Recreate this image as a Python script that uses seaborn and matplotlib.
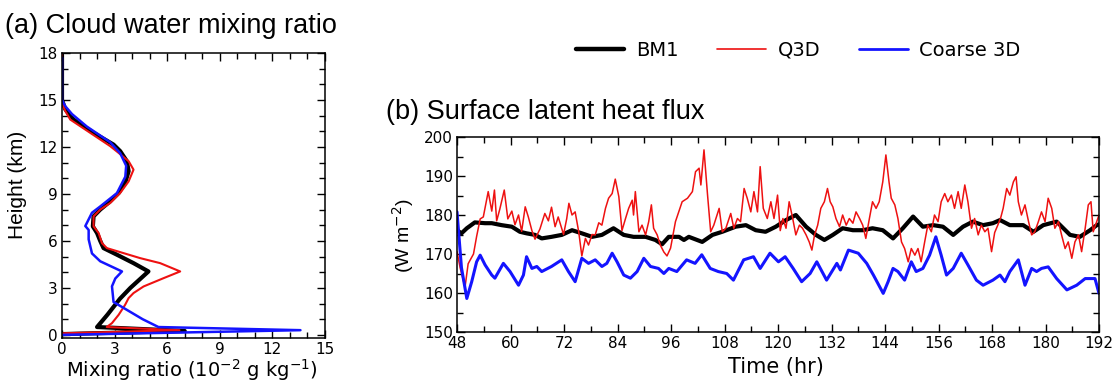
import matplotlib
matplotlib.use("Agg")
import matplotlib.pyplot as plt
from matplotlib.lines import Line2D
from matplotlib.ticker import MultipleLocator
import pandas as pd
import seaborn as sns

# ---------------- (a) cloud water mixing ratio profiles ----------------
# mixing ratio in 1e-2 g/kg, height in km (listed bottom to top)
bm1_qc = [0.0, 7.0, 2.0, 2.6, 3.3, 3.9, 4.93, 4.08, 3.13, 2.37, 2.18, 2.0, 1.76,
          1.8, 2.18, 2.75, 3.23, 3.6, 3.8, 3.7, 3.32, 2.94, 1.8, 0.66, 0.19, 0.0, 0.0]
bm1_z = [0.05, 0.25, 0.5, 1.3, 2.3, 3.0, 4.05, 4.58, 5.12, 5.54, 6.0, 6.5, 6.93,
         7.57, 8.0, 8.53, 9.06, 9.7, 10.45, 11.09, 11.73, 12.15, 12.9, 13.75, 14.4, 15.0, 17.9]

q3d_qc = [0.0, 6.7, 2.55, 2.85, 3.23, 3.6, 3.8, 4.08, 4.65, 5.79, 6.74, 5.6, 4.46,
          3.51, 2.56, 2.28, 2.09, 1.8, 1.8, 2.18, 2.75, 3.32, 3.8, 4.08, 3.8, 3.23,
          2.75, 1.61, 0.47, 0.19, 0.0, 0.0]
q3d_z = [0.1, 0.3, 0.5, 0.75, 1.28, 1.92, 2.35, 2.67, 3.09, 3.62, 4.05, 4.58, 4.9,
         5.22, 5.54, 5.86, 6.5, 6.93, 7.57, 8.0, 8.42, 9.06, 9.8, 10.55, 11.09, 11.62,
         12.05, 12.9, 13.75, 14.29, 14.8, 17.9]

coarse_qc = [0.0, 13.6, 5.5, 4.6, 2.94, 2.85, 3.04, 3.42, 2.18, 1.71, 1.52, 1.52,
             1.33, 1.71, 2.18, 3.13, 3.61, 3.66, 3.32, 2.75, 1.42, 0.57, 0.19, 0.0, 0.0]
coarse_z = [0.0, 0.3, 0.5, 1.0, 2.1, 3.1, 3.6, 4.05, 4.7, 5.2, 6.1, 6.7,
            6.95, 7.8, 8.2, 9.05, 10.1, 10.8, 11.6, 12.3, 13.3, 14.1, 14.6, 15.0, 17.7]

# ---------------- (b) surface latent heat flux (W m-2) ----------------
bm1_hours = [48.0, 49.0, 50.2, 52.0, 54.3, 55.8, 58.0, 60.3, 62.1, 63.6,
             65.5, 67.0, 69.2, 71.5, 73.8, 76.0, 78.3, 80.5, 83.1, 85.4,
             87.6, 90.3, 92.5, 94.0, 95.5, 97.8, 98.9, 100.0, 103.0, 105.3,
             107.5, 110.5, 112.8, 115.0, 117.2, 119.5, 121.8, 124.0, 126.3, 128.5,
             130.4, 132.3, 134.5, 136.8, 139.0, 141.2, 143.5, 145.8, 148.0, 150.3,
             152.5, 154.8, 157.0, 159.3, 161.5, 163.7, 166.0, 168.2, 169.8, 172.0,
             175.0, 177.3, 179.5, 182.5, 185.5, 187.7, 190.0, 191.5, 192.0]
bm1_flux = [176.1, 175.3, 176.6, 178.1, 177.9, 177.9, 177.4, 177.0, 175.7, 175.3,
            174.9, 174.0, 174.4, 174.9, 176.1, 175.3, 174.4, 174.9, 176.6, 174.9,
            174.4, 174.4, 173.6, 172.5, 174.4, 174.4, 173.6, 174.4, 173.1, 174.9,
            175.7, 177.0, 177.4, 176.1, 175.7, 177.0, 178.7, 180.0, 177.0, 174.9,
            173.6, 174.9, 176.6, 176.1, 176.1, 176.6, 176.1, 174.0, 176.6, 179.6,
            177.0, 177.4, 177.0, 174.9, 177.0, 178.3, 177.4, 177.9, 178.7, 177.4,
            177.4, 175.7, 177.4, 178.3, 174.9, 174.4, 176.1, 177.4, 177.6]

q3d_hours = [48.0, 48.7, 49.8, 50.5, 51.7, 52.4, 53.2, 53.9, 55.0, 55.8,
             56.4, 56.9, 57.6, 58.6, 59.4, 60.3, 61.0, 61.8, 62.5, 63.3,
             64.0, 64.8, 65.5, 66.6, 67.7, 68.5, 69.2, 70.0, 70.7, 71.9,
             72.6, 73.1, 73.8, 74.5, 75.3, 76.0, 76.8, 77.5, 78.3, 79.0,
             79.8, 80.5, 81.3, 82.0, 82.8, 83.5, 84.3, 85.0, 85.8, 86.5,
             87.3, 87.6, 88.0, 88.8, 89.5, 90.3, 91.0, 91.6, 92.1, 92.9,
             93.6, 94.4, 95.1, 95.9, 97.0, 98.5, 99.7, 100.8, 101.5, 102.3,
             102.7, 103.4, 104.2, 104.9, 105.6, 106.8, 107.5, 108.3, 109.4, 110.1,
             110.9, 111.6, 112.4, 113.1, 113.9, 114.6, 115.4, 116.0, 116.7, 117.6,
             118.4, 119.1, 119.9, 120.5, 121.1, 121.8, 122.5, 123.3, 124.0, 124.8,
             125.5, 126.3, 127.0, 127.6, 128.2, 128.9, 129.6, 130.4, 131.1, 131.7,
             132.3, 133.0, 133.8, 134.5, 135.3, 136.0, 136.8, 137.5, 138.3, 139.0,
             139.7, 140.5, 141.2, 142.0, 142.7, 143.5, 144.2, 144.9, 145.4, 146.2,
             146.9, 147.7, 148.4, 149.2, 149.9, 150.7, 151.4, 152.1, 152.9, 153.6,
             154.4, 155.1, 155.9, 156.6, 157.4, 158.1, 158.9, 159.6, 160.4, 161.1,
             161.9, 162.6, 163.4, 164.1, 164.9, 165.6, 166.4, 167.1, 167.9, 168.6,
             169.3, 170.0, 170.5, 171.3, 172.0, 172.8, 173.4, 173.9, 174.6, 175.4,
             176.2, 176.9, 177.6, 178.4, 179.1, 179.9, 180.6, 181.4, 182.1, 182.9,
             183.6, 184.4, 185.1, 185.9, 186.6, 187.4, 188.1, 188.9, 189.6, 190.2,
             190.7, 191.5, 192.0]
q3d_flux = [170.6, 166.5, 161.5, 167.5, 170.0, 174.5, 179.0, 179.5, 186.0, 181.0,
            186.4, 178.5, 181.5, 186.4, 179.0, 181.0, 177.5, 180.0, 175.8, 182.1,
            179.5, 176.0, 173.8, 176.4, 180.4, 178.5, 182.0, 177.0, 179.5, 175.0,
            179.0, 183.0, 180.0, 180.8, 175.7, 169.5, 174.0, 172.3, 175.0, 174.9,
            178.0, 177.4, 181.7, 184.3, 185.5, 189.2, 184.7, 176.0, 179.1, 181.7,
            183.8, 180.0, 186.0, 175.7, 177.4, 174.9, 178.3, 182.6, 176.6, 174.9,
            172.3, 170.5, 169.5, 171.5, 178.3, 183.4, 184.3, 186.0, 191.1, 192.0,
            187.7, 196.7, 185.1, 175.7, 177.4, 181.7, 175.7, 176.6, 180.4, 176.6,
            179.1, 178.3, 186.8, 184.3, 180.8, 186.0, 180.8, 192.4, 181.7, 179.1,
            183.4, 179.1, 185.1, 176.0, 179.1, 176.6, 183.4, 179.1, 174.9, 177.4,
            176.6, 174.9, 173.1, 171.0, 174.9, 177.4, 181.7, 183.4, 186.8, 183.4,
            182.1, 179.1, 177.0, 180.0, 177.4, 179.1, 177.9, 180.8, 179.1, 177.4,
            174.0, 179.1, 183.4, 181.7, 183.4, 188.5, 195.4, 188.5, 184.3, 182.6,
            179.1, 173.1, 171.4, 168.0, 171.4, 169.7, 171.4, 168.0, 173.1, 177.4,
            175.7, 180.0, 178.3, 183.4, 185.5, 183.4, 185.1, 181.7, 186.0, 181.7,
            187.7, 183.4, 176.6, 179.1, 174.9, 177.4, 175.7, 176.6, 170.6, 175.5,
            177.4, 179.5, 181.7, 186.8, 185.1, 188.5, 189.8, 183.4, 180.0, 182.6,
            178.3, 174.9, 175.7, 178.3, 180.8, 178.3, 184.3, 181.7, 176.6, 178.3,
            174.9, 171.4, 173.1, 168.9, 173.1, 174.9, 170.6, 176.6, 182.6, 183.4,
            175.7, 178.3, 180.0]

coarse_hours = [48.0, 49.0, 50.2, 51.3, 52.4, 53.2, 54.3, 55.8, 56.5, 58.4,
                59.9, 61.8, 62.9, 63.6, 64.8, 65.9, 67.0, 69.2, 71.5, 73.0,
                74.5, 76.0, 77.5, 79.0, 80.5, 81.6, 82.8, 83.9, 85.4, 86.9,
                88.4, 89.9, 91.4, 93.2, 94.4, 95.5, 97.3, 99.5, 101.4, 102.9,
                104.8, 106.6, 108.5, 110.0, 112.3, 114.5, 116.0, 118.2, 120.1, 121.6,
                123.4, 125.3, 127.2, 128.7, 130.9, 133.2, 134.0, 135.8, 138.0, 139.9,
                141.4, 143.6, 144.7, 145.8, 146.9, 148.4, 149.9, 151.0, 152.5, 154.0,
                155.4, 156.6, 157.8, 159.3, 161.1, 162.6, 164.5, 166.0, 168.2, 169.8,
                170.9, 172.0, 173.9, 175.4, 176.9, 178.0, 179.1, 180.6, 182.5, 184.8,
                187.0, 188.9, 191.1, 192.0]
coarse_flux = [180.8, 166.5, 158.6, 162.9, 168.0, 169.7, 167.2, 164.6, 163.8, 167.6,
               165.5, 162.0, 164.6, 169.3, 166.3, 166.8, 165.5, 166.8, 168.5, 165.5,
               162.9, 168.9, 167.6, 168.5, 166.8, 167.6, 170.2, 168.0, 164.6, 163.8,
               165.5, 168.9, 166.8, 166.3, 165.0, 166.3, 165.5, 168.5, 167.6, 169.8,
               166.3, 165.5, 165.0, 163.3, 168.5, 169.3, 166.3, 170.2, 168.0, 169.3,
               166.3, 162.9, 165.0, 168.0, 163.3, 167.6, 165.9, 171.0, 170.2, 167.6,
               164.6, 159.9, 162.9, 166.3, 165.5, 163.3, 168.0, 165.5, 166.3, 169.7,
               174.4, 169.7, 164.6, 166.3, 170.2, 167.2, 163.3, 162.0, 163.3, 164.6,
               162.9, 165.5, 168.5, 162.0, 166.3, 165.5, 166.3, 166.7, 163.7, 160.8,
               162.0, 163.7, 163.7, 159.9]

series_names = ["BM1", "Q3D", "Coarse 3D"]
series_colors = {"BM1": "black", "Q3D": "#ee1111", "Coarse 3D": "#1414ff"}

# ---------------- styling ----------------
sns.set_theme(style="ticks")
plt.rcParams["font.family"] = ["DejaVu Sans"]
plt.rcParams["text.color"] = "black"
plt.rcParams["axes.labelcolor"] = "black"
plt.rcParams["axes.linewidth"] = 1.1
plt.rcParams["axes.edgecolor"] = "black"

W, H = 1120, 383
fig = plt.figure(figsize=(W / 100, H / 100), dpi=100)
fig.patch.set_facecolor("white")

ax_a = fig.add_axes([62 / W, 1 - 338 / H, 263 / W, 285 / H])
ax_b = fig.add_axes([457 / W, 1 - 332 / H, 642 / W, 195 / H])

# ---- panel (a) ----
profiles = [
    ("BM1", bm1_qc, bm1_z, 3.0),
    ("Q3D", q3d_qc, q3d_z, 1.5),
    ("Coarse 3D", coarse_qc, coarse_z, 1.8),
]
for name, qc, z, lw in profiles:
    df = pd.DataFrame({"qc": qc, "z": z})
    sns.lineplot(data=df, x="qc", y="z", orient="y", sort=False, estimator=None,
                 color=series_colors[name], lw=lw, ax=ax_a)

ax_a.set_xlim(0, 15)
ax_a.set_ylim(-0.2, 18)
ax_a.xaxis.set_major_locator(MultipleLocator(3))
ax_a.xaxis.set_minor_locator(MultipleLocator(1))
ax_a.yaxis.set_major_locator(MultipleLocator(3))
ax_a.yaxis.set_minor_locator(MultipleLocator(1))
ax_a.set_xlabel("")
ax_a.set_ylabel("")

# ---- panel (b) ----
series_b = [
    ("BM1", bm1_hours, bm1_flux, 3.0),
    ("Q3D", q3d_hours, q3d_flux, 1.1),
    ("Coarse 3D", coarse_hours, coarse_flux, 2.2),
]
for name, t, f, lw in series_b:
    df = pd.DataFrame({"hour": t, "flux": f})
    sns.lineplot(data=df, x="hour", y="flux", estimator=None,
                 color=series_colors[name], lw=lw, ax=ax_b)

ax_b.set_xlim(48, 192)
ax_b.set_ylim(150, 200)
ax_b.xaxis.set_major_locator(MultipleLocator(12))
ax_b.xaxis.set_minor_locator(MultipleLocator(6))
ax_b.yaxis.set_major_locator(MultipleLocator(10))
ax_b.yaxis.set_minor_locator(MultipleLocator(5))
ax_b.set_xlabel("")
ax_b.set_ylabel("")

for ax in (ax_a, ax_b):
    for s in ax.spines.values():
        s.set_visible(True)
        s.set_color("black")
        s.set_linewidth(1.1)
    ax.tick_params(which="both", direction="in", top=True, right=True,
                   color="black", width=1.0, labelsize=11, labelcolor="black")
    ax.tick_params(which="major", length=5.5)
    ax.tick_params(which="minor", length=4)
    ax.tick_params(axis="x", pad=3)
    ax.tick_params(axis="y", pad=3)
    ax.set_facecolor("white")
    ax.grid(False)

# ---- text ----
title_font = "Liberation Sans"
fig.text(5 / W, 1 - 33 / H, "(a) Cloud water mixing ratio", fontsize=19.5,
         family=title_font, va="baseline", ha="left")
fig.text(386 / W, 1 - 119 / H, "(b) Surface latent heat flux", fontsize=19.5,
         family=title_font, va="baseline", ha="left")

fig.text(18 / W, 1 - 185 / H, "Height (km)", rotation=90, fontsize=15,
         family=title_font, ha="center", va="center")
fig.text(192 / W, 1 - 377 / H, "Mixing ratio (10$^{-2}$ g kg$^{-1}$)", fontsize=14,
         ha="center", va="baseline")
fig.text(403 / W, 1 - 236 / H, "(W m$^{-2}$)", rotation=90, fontsize=14,
         family=title_font, ha="center", va="center")
fig.text(776 / W, 1 - 373 / H, "Time (hr)", fontsize=15, ha="center", va="baseline")

# ---- legend ----
legend_lw = {"BM1": 3.2, "Q3D": 1.2, "Coarse 3D": 2.0}
handles = [Line2D([], [], color=series_colors[n], lw=legend_lw[n]) for n in series_names]
fig.legend(handles, series_names, loc="center", bbox_to_anchor=(798 / W, 1 - 50 / H),
           ncol=3, frameon=False, fontsize=14, handlelength=2.5,
           handletextpad=0.6, columnspacing=2.0)

fig.savefig("out.png", dpi=100, facecolor="white")
